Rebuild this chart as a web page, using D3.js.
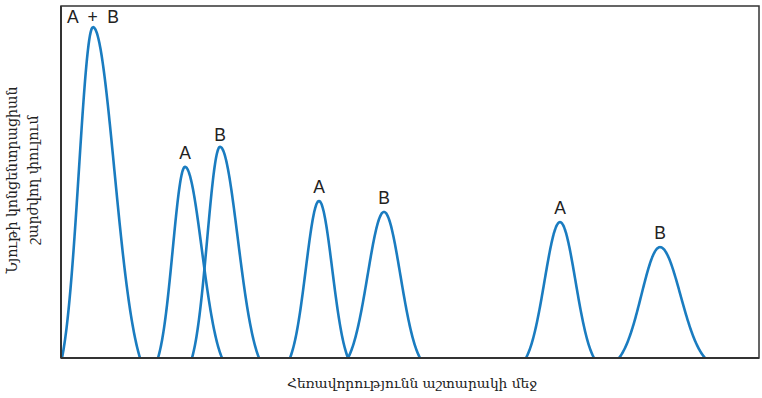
<!DOCTYPE html>
<html><head><meta charset="utf-8">
<script src="https://cdn.jsdelivr.net/npm/d3@7"></script>
<style>body{margin:0;background:#fff}svg{display:block}</style>
</head><body>
<script>
// Peak data (distance units along the column, concentration units)
const peakLabels = ["A  +  B", "A", "B", "A", "B", "A", "B"];
const peakCenters = [32, 124, 159, 258, 323, 499, 599];
const peakHeights = [94, 54.3, 60, 44.6, 41.5, 38.6, 31.5];
const peakLeftBase = [1, 97, 131, 229, 287, 465, 558];
const peakRightBase = [79, 161, 198, 287, 359, 533, 644];
const labelGap = [4, 8, 6, 8, 8, 8, 8];
const xLabel = "Հեռավորությունն աշտարակի մեջ";
const yLabelLines = ["Նյութի կոնցենտրացիան", "շարժվող փուլում"];

const W = 762, H = 398;
const m = {l: 61, r: 3, t: 6, b: 40};
const svg = d3.select("body").append("svg").attr("width", W).attr("height", H);
const x = d3.scaleLinear().domain([0, 698]).range([m.l, W - m.r]);
const y = d3.scaleLinear().domain([0, 100]).range([H - m.b, m.t]);

// frame
svg.append("rect").attr("x", x(0)).attr("y", y(100)).attr("width", x(698) - x(0)).attr("height", y(0) - y(100))
  .attr("fill", "none").attr("stroke", "#333").attr("stroke-width", 1.5);

const line = d3.line().x(d => x(d[0])).y(d => y(d[1])).curve(d3.curveBasis);
const k = 2.2;
peakCenters.forEach((c, i) => {
  const pts = [];
  const lb = peakLeftBase[i], rb = peakRightBase[i], h = peakHeights[i];
  for (let t = lb; t <= rb + 0.001; t += 0.5) {
    const hw = t < c ? c - lb : rb - c;
    const s = hw / k;
    const e0 = Math.exp(-(hw * hw) / (2 * s * s));
    const g = Math.exp(-((t - c) * (t - c)) / (2 * s * s));
    pts.push([t, h * Math.max(0, (g - e0) / (1 - e0))]);
  }
  svg.append("path").attr("d", line(pts)).attr("fill", "none")
    .attr("stroke", "#1a7cc0").attr("stroke-width", 2.6);
  svg.append("text").attr("x", x(c)).attr("y", y(h) - labelGap[i]).attr("text-anchor", "middle")
    .style("white-space", "pre")
    .attr("font-family", "Liberation Sans, Arial, sans-serif").attr("font-size", 17.5)
    .attr("fill", "#222").text(peakLabels[i]);
});

// bottom and left axis lines slightly heavier
svg.append("line").attr("x1", x(0)).attr("x2", x(698)).attr("y1", y(0)).attr("y2", y(0)).attr("stroke", "#333").attr("stroke-width", 2);
svg.append("line").attr("x1", x(0)).attr("x2", x(0)).attr("y1", y(0)).attr("y2", y(100)).attr("stroke", "#333").attr("stroke-width", 2);

svg.append("text").attr("x", (x(0) + x(698)) / 2 + 2).attr("y", 388).attr("text-anchor", "middle")
  .attr("font-family", "DejaVu Serif, serif").attr("font-size", 13.8).attr("fill", "#222").text(xLabel);

yLabelLines.forEach((t, i) => {
  svg.append("text").attr("transform", `translate(${17 + i * 21},${(y(0) + y(100)) / 2 - 2}) rotate(-90)`)
    .attr("text-anchor", "middle").attr("font-family", "DejaVu Serif, serif").attr("font-size", 14.2)
    .attr("fill", "#222").text(t);
});
</script>
</body></html>
